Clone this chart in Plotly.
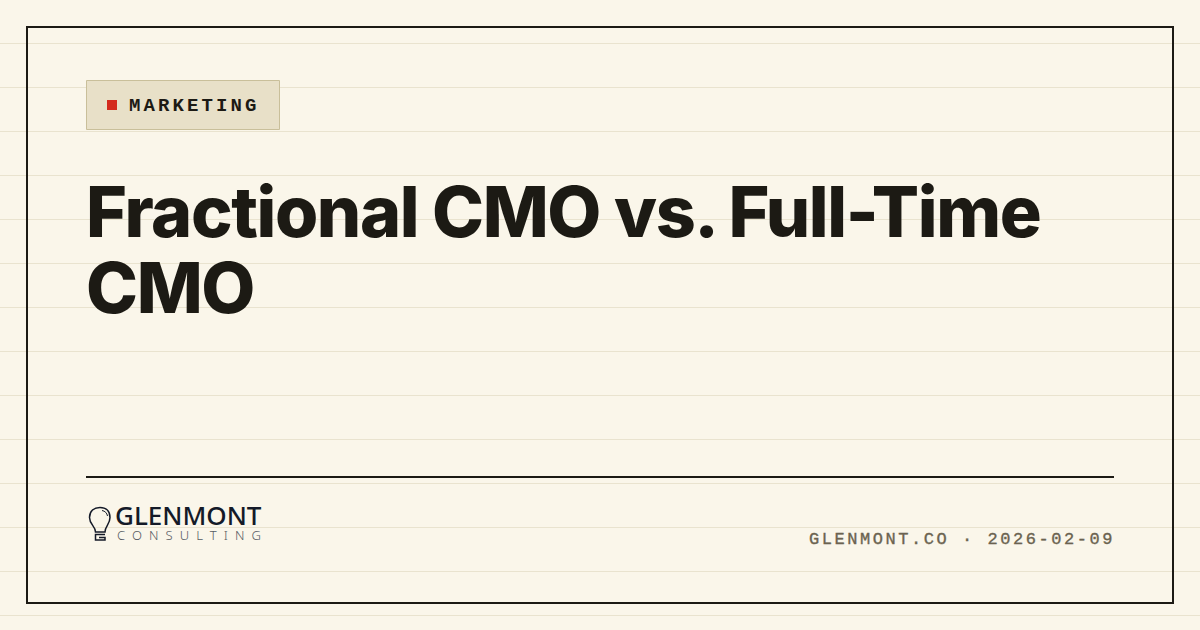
import plotly.graph_objects as go

BG = "#faf6ea"
RULE = "#e9e3cf"
INK = "#1c1a14"

badge_label = ["MARKETING"]
title_lines = ["Fractional CMO vs. Full-Time", "CMO"]
brand_name = ["GLENMONT"]
brand_sub = ["CONSULTING"]
footer_text = ["GLENMONT.CO · 2026-02-09"]
rule_rows = [43.5 + 44 * i for i in range(14)]

fig = go.Figure()

shapes = []
for y in rule_rows:
    shapes.append(dict(type="line", x0=0, x1=1200, y0=y, y1=y, layer="below",
                       line=dict(color=RULE, width=1)))
shapes += [
    dict(type="rect", x0=27, x1=1173, y0=27, y1=603, line=dict(color=INK, width=2), layer="below"),
    dict(type="rect", x0=86.5, x1=279.5, y0=80.5, y1=129.5, fillcolor="#e8e0c8",
         line=dict(color="#c9bf9a", width=1), layer="below"),
    dict(type="rect", x0=107, x1=117, y0=100, y1=110, fillcolor="#d42b1e", line=dict(width=0), layer="below"),
    dict(type="line", x0=86, x1=1114, y0=477, y1=477, line=dict(color=INK, width=2), layer="below"),
    # bulb
    dict(type="path", layer="below",
         path="M95.5,532 C95.5,526 89.5,524.5 89.5,517.5 C89.5,511 94,507.5 100,507.5 "
              "C106,507.5 110,511 110,517.5 C110,524.5 105,526 105,532 Z",
         line=dict(color="#141a28", width=1.5)),
    dict(type="path", layer="below", path="M102,510.5 C105,511 107,513 107.5,516",
         line=dict(color="#141a28", width=1)),
    dict(type="path", layer="below", path="M105,534.5 L95.5,534.5 L95.5,540 L105,540 L105,537.5 L99,537.5",
         line=dict(color="#141a28", width=1.5)),
]

def add_text(x, y, text, family, size, color, weight=400, pos="middle right"):
    fig.add_trace(go.Scatter(x=[x], y=[y], text=text, mode="text", textposition=pos,
                             cliponaxis=False, hoverinfo="skip", showlegend=False,
                             textfont=dict(family=family, size=size, color=color, weight=weight)))

add_text(129, 106, badge_label, "Liberation Mono", 19, INK, 700)
add_text(86, 219, title_lines[:1], "Inter", 70, INK, 800)
add_text(86, 295, title_lines[1:], "Inter", 70, INK, 800)
add_text(115, 518, brand_name, "Noto Sans", 26, "#141a28", 500)
add_text(117, 537, brand_sub, "Noto Sans", 13, "#555a62", 300)
add_text(1115, 540, footer_text, "Liberation Mono", 17, "#6b6350", 400, pos="middle left")

fig.update_layout(
    width=1200, height=630, margin=dict(l=0, r=0, t=0, b=0),
    paper_bgcolor=BG, plot_bgcolor=BG, shapes=shapes, showlegend=False,
    xaxis=dict(range=[0, 1200], visible=False, fixedrange=True),
    yaxis=dict(range=[630, 0], visible=False, fixedrange=True),
)

post = """
document.documentElement.style.margin='0';
document.body.style.margin='0';
document.body.style.background='%s';
document.body.style.overflow='hidden';
var sp={'MARKETING':'3.1px','Fractional CMO vs. Full-Time':'-1.4px','CMO':'-1.4px','CONSULTING':'7.1px','GLENMONT.CO · 2026-02-09':'2.55px'};
document.querySelectorAll('.textpoint text').forEach(function(t){
  var s=sp[t.textContent];
  if(s){t.style.letterSpacing=s;}
  if(t.textContent.indexOf('2026')>=0){t.style.stroke='#6b6350';t.style.strokeWidth='0.35px';}
});
""" % BG

fig.write_html("out.html", post_script=post, config={"displayModeBar": False})
